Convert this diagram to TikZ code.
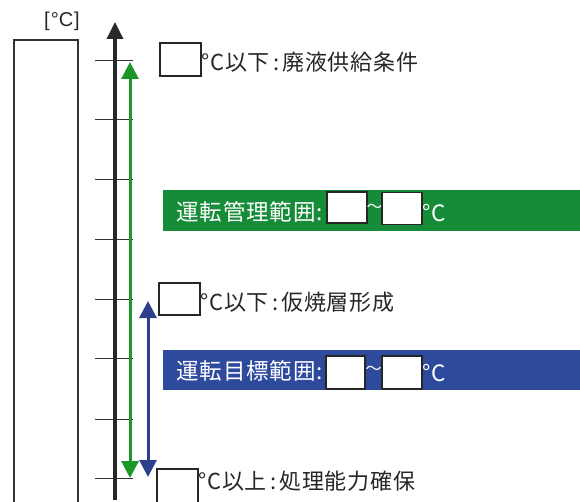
\documentclass[tikz,border=0pt]{standalone}
\usepackage{fontspec}
\setmainfont{Noto Sans CJK JP}
\newfontfamily\latinf{Liberation Sans}
\newfontfamily\spacedjp[LetterSpace=4]{Noto Sans CJK JP}
\usetikzlibrary{arrows.meta}
\definecolor{axisc}{RGB}{40,40,40}
\definecolor{grn}{RGB}{22,140,56}
\definecolor{grnarrow}{RGB}{28,150,40}
\definecolor{blu}{RGB}{46,74,156}
\definecolor{bluarrow}{RGB}{44,62,140}
\tikzset{
  lbl/.style={anchor=west, inner sep=0pt, font=\spacedjp\fontsize{22}{24}\selectfont, text=black!85},
  barlbl/.style={anchor=west, inner sep=0pt, font=\spacedjp\fontsize{22.5}{24}\selectfont, text=white},
  blank/.style={draw=black!85, line width=1.2pt, fill=white, inner sep=0pt},
  tick/.style={draw=black!80, line width=1pt},
}
\begin{document}
\begin{tikzpicture}[x=1pt,y=-1pt]
\useasboundingbox (0,0) rectangle (580,502);
% left column
\draw[black!80, line width=1.2pt] (14,510) -- (14,40) -- (78,40) -- (78,510);
\node[inner sep=0pt, font=\latinf\fontsize{20}{22}\selectfont, text=black!85] (unit) at (62,21) {[\kern1pt°C\kern1pt]};
% ticks
\foreach \yy in {61,120,180,240,299,358,419,478}
  \draw[tick] (95,\yy) -- (133,\yy);
% axis
\coordinate (axb) at (115,500);
\coordinate (axt) at (115,22);
\draw[axisc, line width=3.5pt, -{Triangle[width=16pt,length=17pt]}] (axb) -- (axt);
% green arrow
\coordinate (gt) at (130,62);
\coordinate (gb) at (130,478);
\draw[grnarrow, line width=3pt, {Triangle[width=17pt,length=17pt]}-{Triangle[width=17pt,length=17pt]}] (gb) -- (gt);
% blue arrow
\coordinate (bt) at (148,301);
\coordinate (bb) at (148,477);
\draw[bluarrow, line width=3pt, {Triangle[width=17pt,length=17pt]}-{Triangle[width=17pt,length=17pt]}] (bb) -- (bt);
% label 1
\node[blank, minimum width=41pt, minimum height=33pt] (b1) at (180.5,59.5) {};
\node[lbl] (t1) at (201,62) {°C以下\kern3pt:\kern3pt廃液供給条件};
% green bar
\fill[grn] (163,190) rectangle (580,231);
\node[barlbl] (g1) at (176,212) {運転管理範囲:};
\node[blank, minimum width=40pt, minimum height=31pt] (gbx1) at (347,207.5) {};
\node[barlbl, anchor=center] (gt1) at (374.5,208) {\fontsize{16}{18}\selectfont\char"FF5E};
\node[blank, minimum width=40pt, minimum height=32pt] (gbx2) at (402,208.5) {};
\node[barlbl] (gt2) at (422,213) {°C};
% label 2
\node[blank, minimum width=41pt, minimum height=32pt] (b2) at (179.5,299) {};
\node[lbl] (t2) at (200,302) {°C以下\kern3pt:\kern3pt仮焼層形成};
% blue bar
\fill[blu] (163,350) rectangle (580,390);
\node[barlbl] (bl1) at (176,371) {運転目標範囲:};
\node[blank, minimum width=39pt, minimum height=33pt] (bbx1) at (345.5,372.5) {};
\node[barlbl, anchor=center] (bt1) at (373.5,370) {\fontsize{16}{18}\selectfont\char"FF5E};
\node[blank, minimum width=40pt, minimum height=33pt] (bbx2) at (402,372.5) {};
\node[barlbl] (bt2) at (422,373) {°C};
% label 3
\node[blank, minimum width=41pt, minimum height=40pt] (b3) at (177.5,489) {};
\node[lbl] (t3) at (198,481) {°C以上\kern3pt:\kern3pt処理能力確保};
\end{tikzpicture}
\end{document}
